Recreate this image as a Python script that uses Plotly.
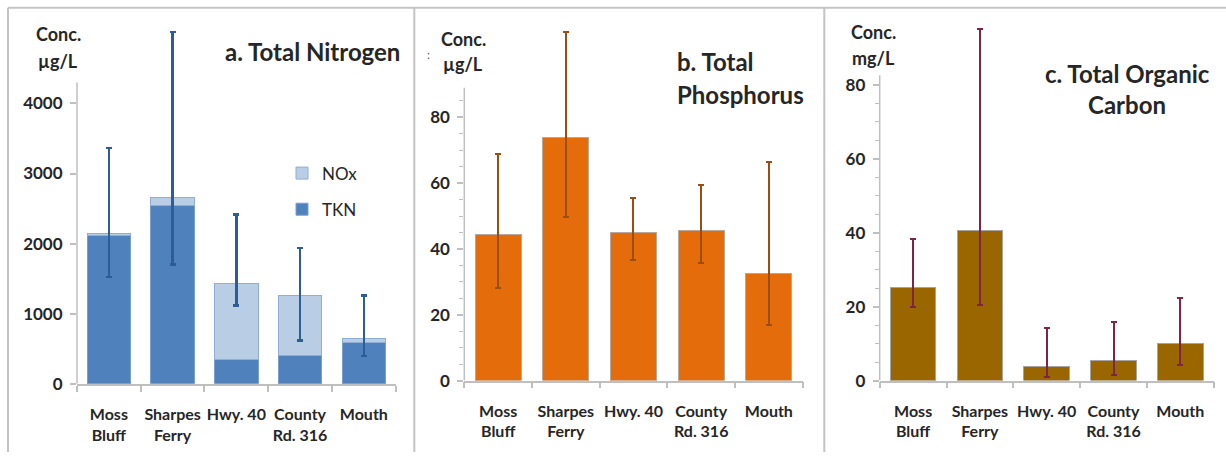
import plotly.graph_objects as go

W, H = 1226, 462

# ---------------- data ----------------
site_keys = ["Moss Bluff", "Sharpes Ferry", "Hwy. 40", "County Rd. 316", "Mouth"]
site_labels = ["Moss<br>Bluff", "Sharpes<br>Ferry", "Hwy. 40", "County<br>Rd. 316", "Mouth"]

# a. Total Nitrogen (µg/L)
tkn = [2120, 2550, 340, 400, 585]
nox = [20, 110, 1085, 860, 65]
tn_upper = [3365, 5020, 2415, 1940, 1260]
tn_lower = [1525, 1705, 1115, 620, 400]

# b. Total Phosphorus (µg/L)
tp = [44.5, 74.0, 44.9, 45.7, 32.7]
tp_upper = [68.8, 106.0, 55.4, 59.5, 66.5]
tp_lower = [28.0, 49.8, 36.6, 35.8, 16.9]

# c. Total Organic Carbon (mg/L)
toc = [25.3, 40.5, 3.9, 5.3, 10.1]
toc_upper = [38.4, 95.2, 14.3, 15.8, 22.4]
toc_lower = [20.0, 20.4, 0.9, 1.5, 4.2]

yticks_a = [0, 1000, 2000, 3000, 4000]
yticks_bc = [0, 20, 40, 60, 80]
minor_b = [5, 10, 15, 25, 30, 35, 45, 50, 55, 65, 70, 75, 85]
minor_c = [5, 10, 15, 25, 30, 35, 45, 50, 55, 65, 70, 75]

FONT = "Lato"
TXT = "#262626"
AXC = "#BFBFBF"

tn_total = [a + b for a, b in zip(tkn, nox)]

def px_x(x):
    return x / W

def px_y(y):
    return 1 - y / H

fig = go.Figure()

# panel a
fig.add_trace(go.Bar(x=site_keys, y=tkn, name="TKN", marker=dict(color="#4F81BD", line=dict(color="#7A9FCF", width=1)),
                     xaxis="x", yaxis="y", legendgroup="tkn", legendrank=2))
fig.add_trace(go.Bar(x=site_keys, y=nox, name="NOx", marker=dict(color="#B9CDE5", line=dict(color="#8FAED6", width=1)),
                     xaxis="x", yaxis="y", legendgroup="nox", legendrank=1,
                     error_y=dict(type="data", symmetric=False,
                                  array=[u - t for u, t in zip(tn_upper, tn_total)],
                                  arrayminus=[t - l for l, t in zip(tn_lower, tn_total)],
                                  color="#2C5D98", thickness=2.5, width=3)))
# panel b
fig.add_trace(go.Bar(x=site_keys, y=tp, showlegend=False, marker=dict(color="#E46C0A", line=dict(color="#B8A79A", width=1)),
                     xaxis="x2", yaxis="y2",
                     error_y=dict(type="data", symmetric=False,
                                  array=[u - v for u, v in zip(tp_upper, tp)],
                                  arrayminus=[v - l for l, v in zip(tp_lower, tp)],
                                  color="#9C4E12", thickness=2, width=3)))
# panel c
fig.add_trace(go.Bar(x=site_keys, y=toc, showlegend=False, marker=dict(color="#996600", line=dict(color="#A7A3A0", width=1)),
                     xaxis="x3", yaxis="y3",
                     error_y=dict(type="data", symmetric=False,
                                  array=[u - v for u, v in zip(toc_upper, toc)],
                                  arrayminus=[v - l for l, v in zip(toc_lower, toc)],
                                  color="#7E2446", thickness=2, width=3)))

# geometry: (x_left_px, x_right_px, y_zero_px, px_per_unit, range_max, axis_line_top)
panels = [
    (77.0, 395.7, 392.3, 0.07165, 5200, 4300, yticks_a, None),
    (464.3, 802.7, 389.0, 3.3625, 112, 89, yticks_bc, minor_b),
    (879.7, 1213.7, 389.0, 3.779, 100, 82.6, yticks_bc, minor_c),
]

shapes = []
for i, (xl, xr, y0, s, rmax, ltop, ytv, mtv) in enumerate(panels):
    sfx = "" if i == 0 else str(i + 1)
    ytop = y0 - rmax * s
    fig.layout["xaxis" + sfx] = dict(
        domain=[px_x(xl), px_x(xr)], anchor="y" + sfx,
        tickmode="array", tickvals=site_keys, ticktext=site_labels, tickangle=0,
        showline=True, linecolor=AXC, linewidth=1.5,
        ticks="outside", tickson="boundaries", ticklen=6, tickcolor=AXC, tickwidth=1.5,
        ticklabelstandoff=15,
        tickfont=dict(family=FONT, size=16, color=TXT, weight="bold"),
        showgrid=False, zeroline=False, fixedrange=True,
    )
    ydict = dict(
        domain=[px_y(y0), px_y(ytop)], anchor="x" + sfx, range=[0, rmax],
        tickmode="array", tickvals=ytv,
        showline=False, showgrid=False, zeroline=False,
        ticks="outside", ticklen=6, tickcolor=AXC, tickwidth=1.5,
        ticklabelstandoff=4,
        tickfont=dict(family=FONT, size=17, color=TXT, weight="bold"),
        fixedrange=True,
    )
    if mtv:
        ydict["minor"] = dict(tickmode="array", tickvals=mtv, ticks="outside", ticklen=4,
                              tickcolor=AXC, tickwidth=1)
    fig.layout["yaxis" + sfx] = ydict
    shapes.append(dict(type="line", xref="x" + sfx + " domain", yref="y" + sfx,
                       x0=0, x1=0, y0=0, y1=ltop, line=dict(color=AXC, width=1.5)))

# panel frames
FR = "#C4C4C4"
shapes.append(dict(type="line", xref="paper", yref="paper", x0=px_x(8), x1=1, y0=px_y(8), y1=px_y(8),
                   line=dict(color=FR, width=2)))
for xv in [8, 414.3, 824.3]:
    shapes.append(dict(type="line", xref="paper", yref="paper", x0=px_x(xv), x1=px_x(xv), y0=px_y(8), y1=0,
                       line=dict(color=FR, width=2)))

def ann(text, x, y, size, xanchor="center", bold=True, color=TXT):
    return dict(text=text, x=px_x(x), y=px_y(y), xref="paper", yref="paper",
                xanchor=xanchor, yanchor="middle", showarrow=False,
                font=dict(family=FONT, size=size, color=color, weight="bold" if bold else "normal"))

annotations = [
    ann("Conc.", 58, 35, 18), ann("µg/L", 58, 62, 18),
    ann("a. Total Nitrogen", 402, 53, 24, xanchor="right"),
    ann("Conc.", 463, 40, 18), ann("µg/L", 463, 65, 18),
    ann("b. Total", 675, 63, 24, xanchor="left"),
    ann("Phosphorus", 675, 97, 24, xanchor="left"),
    ann("Conc.", 873.5, 33, 18), ann("mg/L", 873.5, 59, 18),
    ann("c. Total Organic", 1127, 75, 24),
    ann("Carbon", 1127, 107, 24),
    ann(":", 428, 56, 12, bold=False, color="#555555"),
]

fig.update_layout(
    width=W, height=H, margin=dict(l=0, r=0, t=0, b=0),
    paper_bgcolor="white", plot_bgcolor="white",
    barmode="stack", bargap=0.32,
    showlegend=True,
    legend=dict(x=px_x(282), y=px_y(159), xanchor="left", yanchor="top",
                traceorder="grouped", tracegroupgap=11,
                font=dict(family=FONT, size=17, color=TXT),
                bgcolor="rgba(0,0,0,0)"),
    shapes=shapes, annotations=annotations,
    font=dict(family=FONT, color=TXT),
)

fig.write_html("out.html")
